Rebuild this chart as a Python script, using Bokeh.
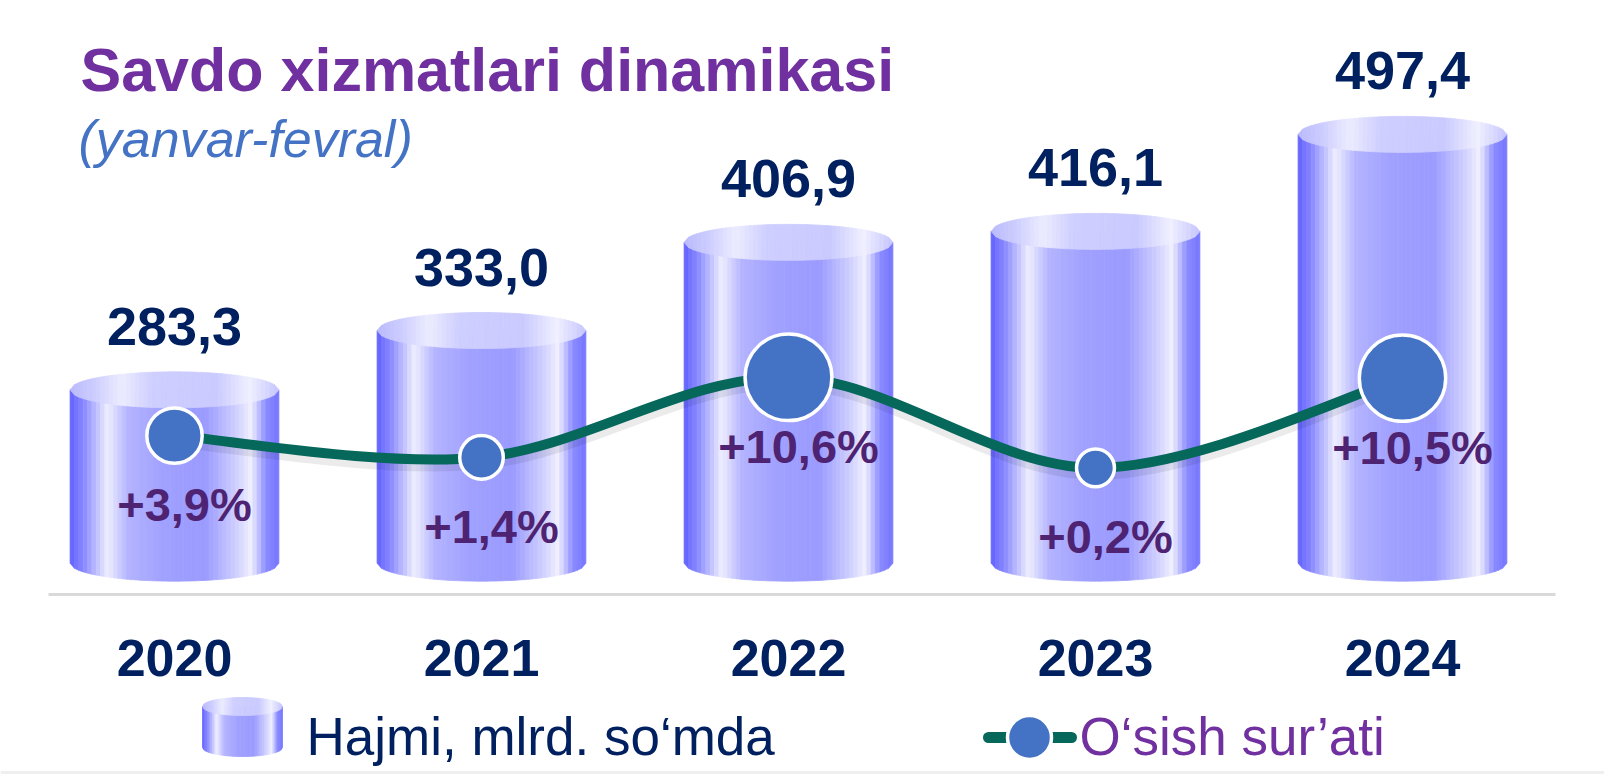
import numpy as np
from bokeh.plotting import figure
from bokeh.models import Range1d
from bokeh.core.properties import value
from bokeh.embed import file_html
from bokeh.resources import INLINE

# ---------------- data ----------------
years = ["2020", "2021", "2022", "2023", "2024"]
volume = [283.3, 333.0, 406.9, 416.1, 497.4]      # Hajmi, mlrd. so'mda
growth = [3.9, 1.4, 10.6, 0.2, 10.5]              # O'sish sur'ati, %

title_text = "Savdo xizmatlari dinamikasi"
subtitle_text = "(yanvar-fevral)"
legend_bar_text = "Hajmi, mlrd. so\u2018mda"
legend_line_text = "O\u2018sish sur\u2019ati"

# ---------------- layout / scales ----------------
W, H = 1604, 774
X0, DX = 174.0, 307.0            # pixel of first category, category spacing
VA, VB = 727.3, 1.193            # value -> pixel : py = VA - VB*v
GA, GB = 469.1, 8.71             # growth -> pixel: py = GA - GB*g
BASE = 138.0                     # cylinder base (value units)
BW = 0.68                        # cylinder width (category units)
EY = 18.0 / VB                   # half height of ellipse (value units)
KB = 0.36                        # baseline correction (fraction of font size)

x_start = -X0 / DX
x_end = (W - X0) / DX
def px2x(px):
    return x_start + px / DX
def py2v(py):
    return (VA - py) / VB

FONT = value("Liberation Sans")
NAVY = "#002060"
PURPLE = "#7030A0"
DPURPLE = "#4E2372"
TEAL = "#06675B"
DOT = "#4472C4"

p = figure(width=W, height=H, x_range=Range1d(x_start, x_end),
           y_range=Range1d((VA - H) / VB, VA / VB),
           x_axis_type=None, y_axis_type=None,
           output_backend="svg", toolbar_location=None, min_border=0)
p.title.visible = False
p.extra_y_ranges = {"g": Range1d((GA - H) / GB, GA / GB)}
p.grid.visible = False
p.outline_line_color = None
p.background_fill_color = "white"
p.border_fill_color = "white"

# ---------------- gradients ----------------
body_stops = [(0.00, (98, 98, 255)), (0.07, (140, 140, 255)), (0.18, (238, 238, 255)),
              (0.28, (180, 180, 255)), (0.45, (160, 160, 255)), (0.65, (155, 155, 255)),
              (0.79, (205, 205, 255)), (0.87, (240, 240, 255)), (0.94, (140, 140, 255)),
              (1.00, (118, 118, 255))]
top_stops = [(0.00, (186, 186, 252)), (0.12, (205, 205, 255)), (0.25, (236, 236, 255)),
             (0.40, (206, 206, 255)), (0.70, (202, 202, 255)), (0.86, (240, 240, 255)),
             (1.00, (198, 198, 255))]

def grad(stops, u):
    for (u0, c0), (u1, c1) in zip(stops[:-1], stops[1:]):
        if u0 <= u <= u1:
            t = (u - u0) / (u1 - u0) if u1 > u0 else 0
            c = [int(round(a + (b - a) * t)) for a, b in zip(c0, c1)]
            return "#%02x%02x%02x" % tuple(c)
    return "#%02x%02x%02x" % stops[-1][1]

N = 48
def cylinder(xc, width, ytop, ybase, ey, xs_b, ys_b, cs_b, xs_t, ys_t, cs_t):
    left = xc - width / 2
    for k in range(N):
        u0, u1 = k / N, (k + 1) / N
        s0 = np.sqrt(max(0.0, 1 - (2 * u0 - 1) ** 2))
        s1 = np.sqrt(max(0.0, 1 - (2 * u1 - 1) ** 2))
        xa, xb = left + u0 * width, left + u1 * width
        xs_b.append([xa, xb, xb, xa])
        ys_b.append([ytop, ytop, ybase - ey * s1, ybase - ey * s0])
        cs_b.append(grad(body_stops, (u0 + u1) / 2))
        xs_t.append([xa, xb, xb, xa])
        ys_t.append([ytop + ey * s0, ytop + ey * s1, ytop - ey * s1, ytop - ey * s0])
        cs_t.append(grad(top_stops, (u0 + u1) / 2))

xs_b, ys_b, cs_b, xs_t, ys_t, cs_t = [], [], [], [], [], []
for i, v in enumerate(volume):
    cylinder(i, BW, v, BASE, EY, xs_b, ys_b, cs_b, xs_t, ys_t, cs_t)

# legend cylinder icon (decoration, positioned in pixels)
icon_w = (282 - 202) / DX
cylinder(px2x(242), icon_w, py2v(706), py2v(747), 9.0 / VB,
         xs_b, ys_b, cs_b, xs_t, ys_t, cs_t)

p.patches(xs_b, ys_b, fill_color=cs_b, line_color=cs_b, line_width=0.8)
p.patches(xs_t, ys_t, fill_color=cs_t, line_color=cs_t, line_width=0.8)

# ---------------- baseline & bottom rule ----------------
p.segment(x0=[px2x(48)], y0=[py2v(594)], x1=[px2x(1555)], y1=[py2v(594)],
          line_color="#D9D9D9", line_width=3)
p.segment(x0=[px2x(0)], y0=[py2v(772)], x1=[px2x(W)], y1=[py2v(772)],
          line_color="#EFEFEF", line_width=3)

# ---------------- smooth growth line ----------------
idx = list(range(len(years)))
P = list(zip(idx, growth))
bx0, by0, bx1, by1, cx0, cy0, cx1, cy1 = [], [], [], [], [], [], [], []
n = len(P)
for i in range(n - 1):
    pm = P[i - 1] if i > 0 else P[i]
    p0, p1 = P[i], P[i + 1]
    p2 = P[i + 2] if i + 2 < n else P[i + 1]
    bx0.append(p0[0]); by0.append(p0[1]); bx1.append(p1[0]); by1.append(p1[1])
    cx0.append(p0[0] + (p1[0] - pm[0]) / 6); cy0.append(p0[1] + (p1[1] - pm[1]) / 6)
    cx1.append(p1[0] - (p2[0] - p0[0]) / 6); cy1.append(p1[1] - (p2[1] - p0[1]) / 6)

# soft shadow under the line (shifted a few pixels down)
sh = 5.0 / GB
p.bezier(x0=bx0, y0=[v - sh for v in by0], x1=bx1, y1=[v - sh for v in by1],
         cx0=cx0, cy0=[v - sh for v in cy0], cx1=cx1, cy1=[v - sh for v in cy1],
         y_range_name="g", line_color="#000000", line_alpha=0.08, line_width=14,
         line_cap="round")
p.bezier(x0=bx0, y0=by0, x1=bx1, y1=by1, cx0=cx0, cy0=cy0, cx1=cx1, cy1=cy1,
         y_range_name="g", line_color=TEAL, line_width=10, line_cap="round")

sizes = [37 + 4.7 * g for g in growth]
p.scatter(x=idx, y=growth, size=sizes, y_range_name="g", fill_color=DOT,
          line_color="white", line_width=3.5)

# ---------------- labels ----------------
def sz(px):
    return "%dpx" % px

vol_labels = [("%.1f" % v).replace(".", ",") for v in volume]
p.text(x=idx, y=volume, text=vol_labels, y_offset=-44 - KB * 54, text_align="center",
       text_baseline="alphabetic", text_font=FONT, text_font_style="bold",
       text_font_size=sz(54), text_color=NAVY)

gr_labels = [("+%.1f%%" % g).replace(".", ",") for g in growth]
p.text(x=idx, y=growth, text=gr_labels, y_range_name="g", x_offset=10,
       y_offset=86 - KB * 47, text_align="center", text_baseline="alphabetic",
       text_font=FONT, text_font_style="bold", text_font_size=sz(47),
       text_color=DPURPLE)

p.text(x=idx, y=[py2v(676)] * len(years), text=years, y_offset=-KB * 52,
       text_align="center", text_baseline="alphabetic", text_font=FONT,
       text_font_style="bold", text_font_size=sz(52), text_color=NAVY)

# ---------------- titles ----------------
p.text(x=[px2x(80)], y=[py2v(91)], text=[title_text], y_offset=-KB * 61,
       text_align="left", text_baseline="alphabetic", text_font=FONT,
       text_font_style="bold", text_font_size=sz(61), text_color=PURPLE)
p.text(x=[px2x(78)], y=[py2v(157)], text=[subtitle_text], y_offset=-KB * 52,
       text_align="left", text_baseline="alphabetic", text_font=FONT,
       text_font_style="italic", text_font_size=sz(52), text_color=DOT)

# ---------------- legend ----------------
p.text(x=[px2x(306)], y=[py2v(755)], text=[legend_bar_text], y_offset=-KB * 53,
       text_align="left", text_baseline="alphabetic", text_font=FONT,
       text_font_size=sz(53), text_color=NAVY)
p.segment(x0=[px2x(988)], y0=[py2v(737)], x1=[px2x(1071)], y1=[py2v(737)],
          line_color=TEAL, line_width=11, line_cap="round")
p.scatter(x=[px2x(1029)], y=[py2v(737)], size=44, fill_color=DOT,
          line_color="white", line_width=3.5)
p.text(x=[px2x(1079)], y=[py2v(755)], text=[legend_line_text], y_offset=-KB * 53,
       text_align="left", text_baseline="alphabetic", text_font=FONT,
       text_font_size=sz(53), text_color=PURPLE)

open("out.html", "w").write(file_html(p, INLINE))
